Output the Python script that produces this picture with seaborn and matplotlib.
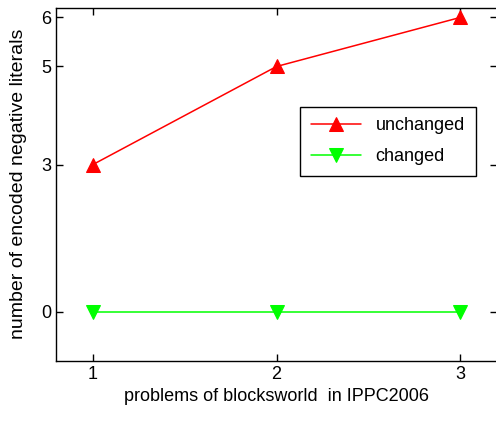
import numpy as np
import pandas as pd
import seaborn as sns
import matplotlib
matplotlib.use("Agg")
from matplotlib import pyplot as plt
from matplotlib import font_manager

problems = [1, 2, 3]
unchanged = [3, 5, 6]
changed = [0, 0, 0]

sns.set_style("ticks")
names = [f.name for f in font_manager.fontManager.ttflist]
fam = "Liberation Sans Narrow" if "Liberation Sans Narrow" in names else "Liberation Sans"
plt.rcParams['font.family'] = [fam, 'DejaVu Sans']
plt.rcParams['text.color'] = 'black'
plt.rcParams['axes.labelcolor'] = 'black'
plt.rcParams['xtick.color'] = 'black'
plt.rcParams['ytick.color'] = 'black'

df = pd.DataFrame({"problem": problems + problems,
                   "value": unchanged + changed,
                   "series": ["unchanged"] * 3 + ["changed"] * 3})

fig = plt.figure(figsize=(4.96, 4.24), dpi=100)
ax = fig.add_axes([0.113, 0.149, 0.889, 0.833])

sns.lineplot(data=df[df.series == "unchanged"], x="problem", y="value", color="#ff0000",
             marker="^", markersize=10.5, markeredgecolor="#ff0000", linewidth=1.1,
             label="unchanged", ax=ax)
sns.lineplot(data=df[df.series == "changed"], x="problem", y="value", color="#00ff00",
             marker="v", markersize=10.5, markeredgecolor="#00ff00", linewidth=1.1,
             label="changed", ax=ax)

ax.set_xlim(0.8, 3.2)
ax.set_ylim(-1, 6.2)
ax.set_xticks(problems)
ax.set_yticks([0, 3, 5, 6])
ax.tick_params(direction="in", length=5, width=1, top=True, right=True, labelsize=13)
for s in ax.spines.values():
    s.set_color("black")
    s.set_linewidth(1)

ax.set_xlabel("problems of blocksworld  in IPPC2006", fontsize=13)
ax.set_ylabel("number of encoded negative literals", fontsize=14, labelpad=10)

leg = ax.legend(loc="upper left", bbox_to_anchor=(0.553, 0.72), borderaxespad=0,
                fancybox=False, edgecolor="black", framealpha=1, fontsize=13,
                handlelength=2.8, borderpad=0.6, labelspacing=0.75)
leg.get_frame().set_linewidth(1)

fig.savefig("out.png", dpi=100)
